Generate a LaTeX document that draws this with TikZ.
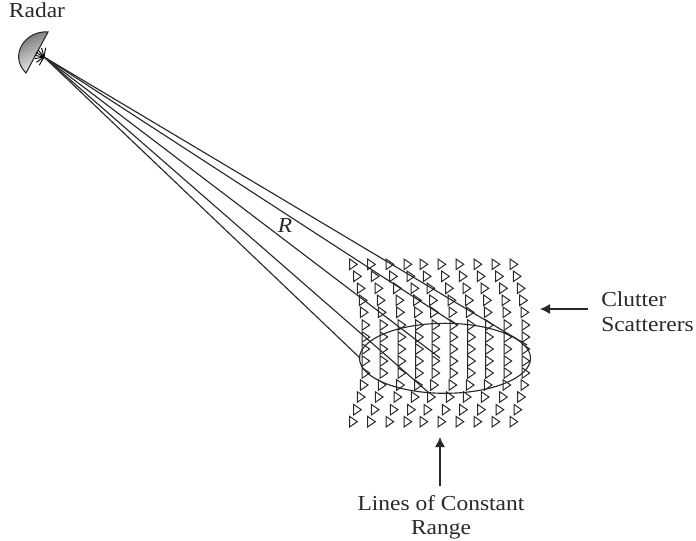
\documentclass[tikz,border=0pt]{standalone}
\usepackage{fontspec}
\setmainfont[FakeStretch=1.1]{Liberation Serif}
\usetikzlibrary{arrows.meta}
\definecolor{ink}{gray}{0.16}
\tikzset{
  lbl/.style={inner sep=0pt,text=ink,font=\fontsize{16}{19}\selectfont,align=center},
  beam/.style={draw=ink,line width=0.85pt},
  callout/.style={draw=ink,line width=0.85pt,-{Latex[length=7.5pt,width=7.5pt]}},
  scat/.style={draw=ink,line width=0.75pt,fill=white,line join=miter}
}
\newcommand{\scatmark}[2]{\draw[scat] (#1-3.7,#2-5.3) -- (#1+4,#2) -- (#1-3.7,#2+5.3) -- cycle;}
\begin{document}
\begin{tikzpicture}[x=0.75pt,y=-0.75pt]
\useasboundingbox (0,0) rectangle (696,540);
% scatterers
\foreach \r/\y/\xs in {
 0/264.3/{353.3,371.3,389.7,407.7,423.7,441.7,459.7,477.7,495.7,513.7},
 1/276.3/{357.3,375,393.3,410.7,427,445.3,463,481,499.3,517},
 2/288.3/{361,378.7,397.3,414.7,430.7,449.3,466.7,484.7,503.3,521},
 3/300.3/{363,381,399.7,417.3,433.3,451.7,469.3,487.3,505.7,523.3},
 4/312.3/{364,382,400.3,418.3,434.3,452.7,470,488,506.7,524.7},
 5/325/{365.7,383.7,401.7,419.3,435.7,453.7,471.3,489.3,507.7,525.7},
 6/337/{365.7,383.7,401.7,419.3,435.7,453.7,471.3,489.3,507.7,525.7},
 7/349/{365.7,383.7,401.7,419.3,435.7,453.7,471.3,489.3,507.7,525.7},
 8/361/{365.7,383.7,401.7,419.3,435.7,453.7,471.3,489.3,507.7,525.7},
 9/373/{365.7,383.7,401.7,419.3,435.7,453.7,471.3,489.3,507.7,525.7},
 10/385/{364,382,400.3,418.3,434.3,452.7,470,488,506.7,524.7},
 11/397/{361,379,397.7,415,431.3,450,467,485,503.3,521.3},
 12/409.7/{357.3,375,394,411.3,427.7,446,463.3,481.3,499.7,517.7},
 13/421.7/{353.3,371.3,389.7,407.7,423.7,441.7,459.7,477.7,495.7,513.7}}
 {\foreach \x in \xs {\scatmark{\x}{\y}}}
% radar
\coordinate (apex) at (44,57);
\path[left color=black!60,right color=black!6,shading angle=25]
  (48,32) .. controls (26,30) and (8,55) .. (26,73) -- cycle;
\draw[line width=0.8pt,ink] (48,32) .. controls (26,30) and (8,55) .. (26,73) -- cycle;
\foreach \a in {80,105,130,150,170,190,215,240}
  \draw[line width=0.7pt,black] (apex) -- ++(\a:7pt);
% beams
\foreach \n/\ex/\ey in {a/527/345,b/457/325,c/440/358,d/428/392,e/360/358}{
  \coordinate (\n) at (\ex,\ey);
  \draw[beam] (apex) -- (\n);
}
% ellipse
\draw[beam] (445,358.3) ellipse [x radius=85.5,y radius=35];
% labels
\node[lbl] (radar) at (37,10) {Radar};
\node[lbl] (R) at (285,226) {\itshape R};
\node[lbl,align=left,anchor=west] (clutter) at (601,299) {Clutter};
\node[lbl,align=left,anchor=west] (scatterers) at (601,325) {Scatterers};
\node[lbl] (lines) at (441,503) {Lines of Constant};
\node[lbl] (range) at (441,530) {Range};
\coordinate (c1) at (588,309);
\coordinate (c2) at (540,309);
\coordinate (l1) at (440,486);
\coordinate (l2) at (440,437);
\draw[callout] (c1) -- (c2);
\draw[callout] (l1) -- (l2);
\end{tikzpicture}
\end{document}
